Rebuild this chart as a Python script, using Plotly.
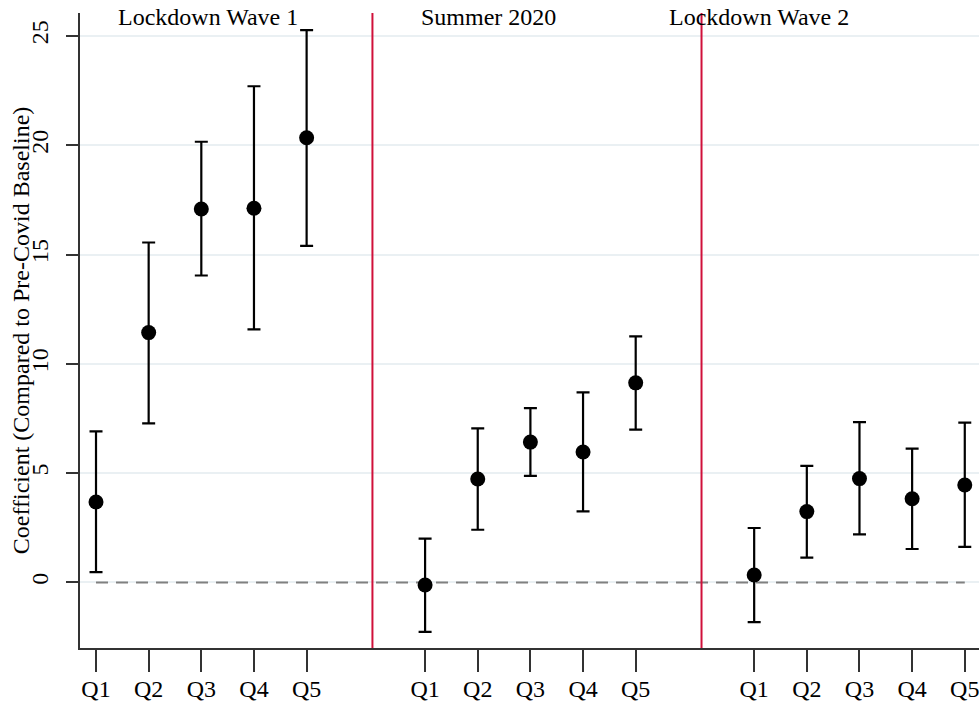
import plotly.graph_objects as go

# quintile positions on the x axis (three periods, gap between them)
period_names = ["Lockdown Wave 1", "Summer 2020", "Lockdown Wave 2"]
quintiles = ["Q1", "Q2", "Q3", "Q4", "Q5"]
x_pos = [1, 2, 3, 4, 5,
         7.25, 8.25, 9.25, 10.25, 11.25,
         13.5, 14.5, 15.5, 16.5, 17.5]
divider_x = [6.25, 12.5]
label_x = [3.13, 8.45, 13.6]

# coefficients and 95% CI bounds
coef = [3.68, 11.43, 17.08, 17.12, 20.34,
        -0.12, 4.73, 6.42, 5.97, 9.13,
        0.34, 3.24, 4.75, 3.83, 4.46]
upper = [6.91, 15.55, 20.16, 22.70, 25.27,
         2.00, 7.05, 7.97, 8.69, 11.26,
         2.49, 5.33, 7.33, 6.12, 7.31]
lower = [0.47, 7.28, 14.04, 11.58, 15.40,
         -2.26, 2.41, 4.87, 3.25, 6.99,
         -1.82, 1.13, 2.20, 1.53, 1.63]

FONT = "Liberation Serif"

fig = go.Figure()

# reference line at zero
fig.add_trace(go.Scatter(
    x=[x_pos[0], x_pos[-1]], y=[0, 0], mode="lines",
    line=dict(color="#808080", width=2, dash="12px,8px"),
    hoverinfo="skip", showlegend=False,
))

fig.add_trace(go.Scatter(
    x=x_pos, y=coef, mode="markers",
    marker=dict(color="black", size=15),
    error_y=dict(
        type="data", symmetric=False,
        array=[u - c for u, c in zip(upper, coef)],
        arrayminus=[c - l for c, l in zip(coef, lower)],
        color="black", thickness=2.2, width=6.5,
    ),
    showlegend=False,
))

for xv in divider_x:
    fig.add_shape(type="line", x0=xv, x1=xv, y0=0, y1=1, xref="x", yref="paper",
                  line=dict(color="#d0103a", width=2))

for name, lx in zip(period_names, label_x):
    fig.add_annotation(x=lx, y=0.993, xref="x", yref="paper", text=name,
                       showarrow=False, yanchor="middle",
                       font=dict(family=FONT, size=24, color="black"))

# y axis title as a rotated annotation so it can sit a bit closer to the ticks
fig.add_annotation(x=-0.066, y=0.5, xref="paper", yref="paper",
                   text="Coefficient (Compared to Pre-Covid Baseline)",
                   textangle=-90, showarrow=False, xanchor="center", yanchor="middle",
                   font=dict(family=FONT, size=24, color="black"))

fig.update_layout(
    width=979, height=704,
    margin=dict(l=80, r=0, t=13, b=56),
    plot_bgcolor="white", paper_bgcolor="white",
    font=dict(family=FONT, size=24, color="black"),
)

fig.update_xaxes(
    range=[0.696, 17.77],
    tickmode="array", tickvals=x_pos, ticktext=quintiles * 3,
    ticks="outside", ticklen=22, tickwidth=1.5, tickcolor="#333333",
    ticklabelstandoff=-4, ticklabeloverflow="allow",
    showline=True, linecolor="#333333", linewidth=2,
    showgrid=False, zeroline=False,
    tickfont=dict(family=FONT, size=24),
)

fig.update_yaxes(
    range=[-3.0, 26.05],
    tickvals=[0, 5, 10, 15, 20, 25], tickangle=-90,
    ticks="outside", ticklen=12, tickwidth=1.5, tickcolor="#333333",
    ticklabelstandoff=8,
    showline=True, linecolor="#333333", linewidth=2,
    showgrid=True, gridcolor="#eaf0f3", gridwidth=1.5, zeroline=False,
    tickfont=dict(family=FONT, size=24),
)

# drop the default body margin so the figure sits at the window's corner
fig.write_html("out.html", config={"displayModeBar": False},
               post_script="document.body.style.margin='0';")
